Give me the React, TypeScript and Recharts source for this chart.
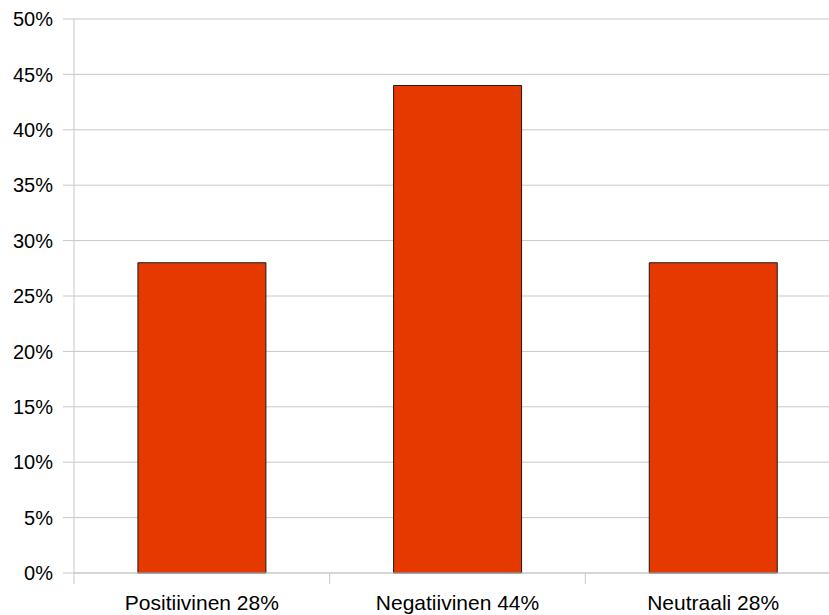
import { BarChart, Bar, XAxis, YAxis, CartesianGrid } from "recharts";

const categories = ["Positiivinen 28%", "Negatiivinen 44%", "Neutraali 28%"];
const shares = [28, 44, 28];
const yTicks = [0, 5, 10, 15, 20, 25, 30, 35, 40, 45, 50];

const data = categories.map((name, i) => ({ name, share: shares[i] }));

const FONT = "'Liberation Sans', Arial, sans-serif";
const GRID = "#c8c8c8";
const TICK_LEN = 11;
const X_LABEL_GAP = 22;

function CategoryTick(props: any) {
  const { x, y, payload, index } = props;
  const half = payload?.offset ?? 0;
  const axisY = y - X_LABEL_GAP;
  return (
    <g>
      <line x1={x - half} y1={axisY} x2={x - half} y2={axisY + TICK_LEN} stroke={GRID} />
      {index === categories.length - 1 && (
        <line x1={x + half} y1={axisY} x2={x + half} y2={axisY + TICK_LEN} stroke={GRID} />
      )}
      <text x={x} y={y} dy="0.71em" textAnchor="middle" fill="#000" fontSize={21} fontFamily={FONT}>
        {payload.value}
      </text>
    </g>
  );
}

export default function App() {
  return (
    <div style={{ position: "absolute", left: 0, top: 0, width: 829, height: 615, overflow: "hidden", background: "#fff" }}>
      <BarChart
        width={841}
        height={615}
        data={data}
        barCategoryGap="25%"
        margin={{ top: 19, right: 0, left: 0, bottom: 0 }}
      >
        <CartesianGrid vertical={false} stroke={GRID} />
        <XAxis
          dataKey="name"
          height={42}
          axisLine={{ stroke: GRID }}
          tickLine={false}
          tickSize={0}
          tickMargin={X_LABEL_GAP}
          interval={0}
          tick={<CategoryTick />}
        />
        <YAxis
          width={74}
          domain={[0, 50]}
          ticks={yTicks}
          interval={0}
          tickFormatter={(v: number) => `${v}%`}
          axisLine={{ stroke: GRID }}
          tickLine={{ stroke: GRID }}
          tickSize={TICK_LEN}
          tickMargin={10}
          tick={{ fill: "#000", fontSize: 20, fontFamily: FONT }}
        />
        <Bar dataKey="share" fill="#e53900" stroke="#1a1a1a" strokeWidth={1} isAnimationActive={false} />
      </BarChart>
    </div>
  );
}
